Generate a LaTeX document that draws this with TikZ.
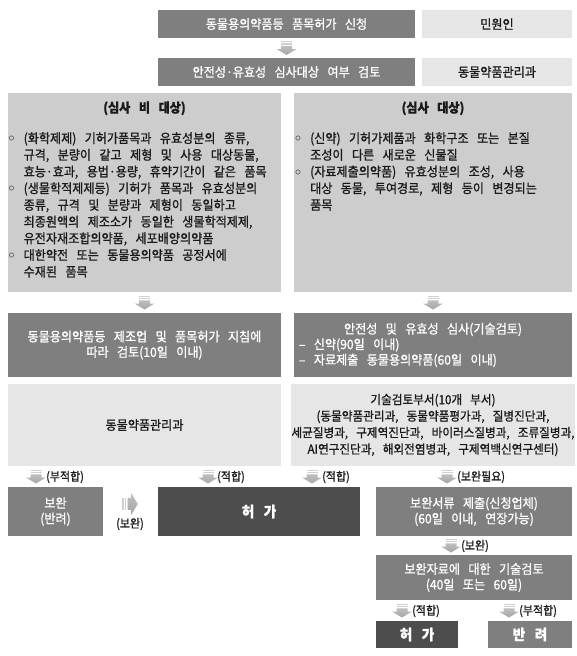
\documentclass[tikz,border=0pt]{standalone}
\usepackage{fontspec}
\setmainfont[WordSpace=3.1, FakeBold=1.0, FakeStretch=0.93]{Noto Sans CJK KR}
\usetikzlibrary{calc}
\definecolor{dk}{HTML}{7F7F7F}
\definecolor{dkr}{HTML}{4D4D4D}
\definecolor{md}{HTML}{CDCDCD}
\definecolor{lt}{HTML}{E6E6E6}
\definecolor{arrA}{HTML}{CFCFCF}
\definecolor{arrB}{HTML}{A6A6A6}
\definecolor{txt}{HTML}{1A1A1A}
\newcommand\fsz{\fontsize{13}{16.7}\selectfont}
\newcommand\fszb{\fontsize{13}{15.5}\selectfont}
\newcommand\fszc{\fontsize{12.5}{16.5}\selectfont}
\newcommand\fszl{\fontsize{11.8}{12}\selectfont}
\newcommand\fszh{\fontsize{14.5}{15}\selectfont\bfseries}
\newcommand\bul{\makebox[15.5pt][l]{\hspace{0.5pt}\raisebox{1.4pt}{$\circ$}}}
\newcommand\hind{\hspace*{15.5pt}}
\tikzset{
  box/.style={inner sep=0pt, outer sep=0pt, align=center, font=\fszb},
  dbox/.style={box, fill=dk, text=white},
  xbox/.style={box, fill=dkr, text=white},
  lbox/.style={box, fill=lt, text=txt},
  mbox/.style={box, fill=md},
  lbl/.style={font=\fszl, inner sep=0pt, anchor=west, text=txt},
  para/.style={font=\fsz, inner sep=0pt, anchor=north west, align=left, text=txt},
  dnarr/.pic={
    \fill[arrA] (-5.5,-7) rectangle (5.5,-5.8);
    \fill[arrA] (-5.5,-4.6) rectangle (5.5,-3.4);
    \shade[top color=arrA!60!arrB, bottom color=arrB] (-5.5,-2.2) -- (5.5,-2.2) -- (5.5,1) -- (10,1) -- (0,7) -- (-10,1) -- (-5.5,1) -- cycle;
  }
}
\begin{document}
\begin{tikzpicture}[x=1pt,y=-1pt]
\useasboundingbox (0,0) rectangle (577,656);
% top rows
\node[dbox, minimum width=257pt, minimum height=28pt] (req) at (286.5,24) {동물용의약품등 품목허가 신청};
\node[lbox, minimum width=150pt, minimum height=28pt] (civ) at (497,24) {민원인};
\node[dbox, minimum width=257pt, minimum height=28pt] (chk) at (286.5,72) {안전성·유효성 심사대상 여부 검토};
\node[lbox, minimum width=150pt, minimum height=28pt] (dept1) at (497,72) {동물약품관리과};
\pic at ($(req.south)!0.5!(chk.north)$) {dnarr};
% big boxes
\node[mbox, minimum width=273pt, minimum height=199pt] (non) at (144.5,192.5) {};
\node[mbox, minimum width=278pt, minimum height=199pt] (tgt) at (433,192.5) {};
\node[font=\fsz\bfseries, inner sep=0pt, text=txt] (nonT) at (144.5,108.3) {(심사 비 대상)};
\node[font=\fsz\bfseries, inner sep=0pt, text=txt] (tgtT) at (433,108.3) {(심사 대상)};
\node[para] (nonL) at (8,132) {\rule{0pt}{10pt}\bul(화학제제) 기허가품목과 유효성분의 종류,\\
\hind 규격, 분량이 같고 제형 및 사용 대상동물,\\
\hind 효능·효과, 용법·용량, 휴약기간이 같은 품목\\
\bul(생물학적제제등) 기허가 품목과 유효성분의\\
\hind 종류, 규격 및 분량과 제형이 동일하고\\
\hind 최종원액의 제조소가 동일한 생물학적제제,\\
\hind 유전자재조합의약품, 세포배양의약품\\
\bul 대한약전 또는 동물용의약품 공정서에\\
\hind 수재된 품목};
\node[para] (tgtL) at (294.5,132) {\rule{0pt}{10pt}\bul(신약) 기허가제품과 화학구조 또는 본질\\
\hind 조성이 다른 새로운 신물질\\
\bul(자료제출의약품) 유효성분의 조성, 사용\\
\hind 대상 동물, 투여경로, 제형 등이 변경되는\\
\hind 품목};
% middle rows
\node[dbox, minimum width=273pt, minimum height=64pt] (rev1) at (144.5,345) {동물용의약품등 제조업 및 품목허가 지침에\\따라 검토(10일 이내)};
\node[dbox, minimum width=278pt, minimum height=64pt, align=left] (rev2) at (433,345) {\makebox[268pt][c]{안전성 및 유효성 심사(기술검토)}\\– 신약(90일 이내)\\– 자료제출 동물용의약품(60일 이내)};
\pic at ($(non.south)!0.5!(rev1.north)$) {dnarr};
\pic at ($(tgt.south)!0.5!(rev2.north)$) {dnarr};
\node[lbox, minimum width=273pt, minimum height=82pt] (dept2) at (144.5,425) {동물약품관리과};
\node[lbox, minimum width=278pt, minimum height=82pt, font=\fszc] (dept3) at (433,425) {기술검토부서(10개 부서)\\(동물약품관리과, 동물약품평가과, 질병진단과,\\세균질병과, 구제역진단과, 바이러스질병과, 조류질병과,\\AI연구진단과, 해외전염병과, 구제역백신연구센터)};
% bottom rows
\node[dbox, minimum width=95pt, minimum height=49pt] (supp) at (55.5,511.5) {보완\\(반려)};
\node[xbox, minimum width=202pt, minimum height=49pt, font=\fszh] (perm) at (259,511.5) {허 가};
\node[dbox, minimum width=196pt, minimum height=49pt] (subm) at (474,511.5) {보완서류 제출(신청업체)\\(60일 이내, 연장가능)};
\node[dbox, minimum width=196pt, minimum height=45pt] (rerev) at (474,577.5) {보완자료에 대한 기술검토\\(40일 또는 60일)};
\node[xbox, minimum width=82pt, minimum height=27pt, font=\fszh] (perm2) at (417,634.5) {허 가};
\node[dbox, minimum width=84pt, minimum height=27pt, font=\fszh] (rej) at (530,634.5) {반 려};
% arrows with labels
\coordinate (a4) at (36,476.5);
\coordinate (a5) at (208,476.5);
\coordinate (a6) at (312,476.5);
\coordinate (a7) at (447,476.5);
\pic at (a4) {dnarr}; \node[lbl] (l4) at (46,477) {(부적합)};
\pic at (a5) {dnarr}; \node[lbl] (l5) at (217,477) {(적합)};
\pic at (a6) {dnarr}; \node[lbl] (l6) at (322,477) {(적합)};
\pic at (a7) {dnarr}; \node[lbl] (l7) at (457,477) {(보완필요)};
\coordinate (a8) at ($(subm.south)!0.5!(rerev.north)+(-23,0)$);
\pic at (a8) {dnarr}; \node[lbl] (l8) at ($(a8)+(10,0.5)$) {(보완)};
\coordinate (a9) at ($(perm2.north)!0.5!(perm2.north|-rerev.south)+(-15,0)$);
\pic at (a9) {dnarr}; \node[lbl] (l9) at ($(a9)+(10,0.5)$) {(적합)};
\coordinate (a10) at ($(rej.north)!0.5!(rej.north|-rerev.south)+(-21,0)$);
\pic at (a10) {dnarr}; \node[lbl] (l10) at ($(a10)+(10,0.5)$) {(부적합)};
\coordinate (a11) at (130,504);
\pic[rotate=90, scale=1.1] at (a11) {dnarr};
\node[lbl, anchor=center] (l11) at (130,524) {(보완)};
\end{tikzpicture}
\end{document}
